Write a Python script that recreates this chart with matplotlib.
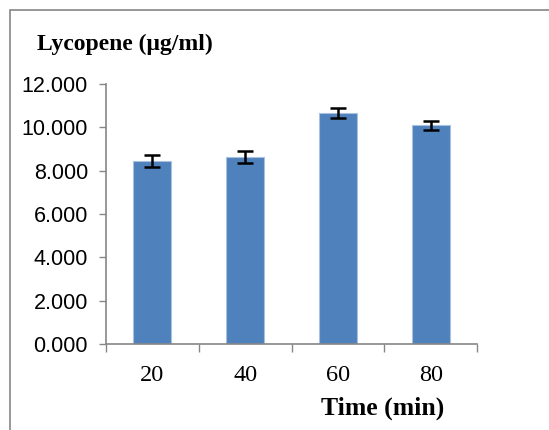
import matplotlib.pyplot as plt
from matplotlib.patches import Rectangle

# Data
times = ["20", "40", "60", "80"]
lycopene = [8.46, 8.62, 10.68, 10.09]
errors = [0.28, 0.28, 0.23, 0.19]
y_ticks = [0, 2, 4, 6, 8, 10, 12]

bar_color = "#4F81BD"
axis_color = "#868686"

fig = plt.figure(figsize=(5.49, 4.30), dpi=100)
ax = fig.add_axes([106 / 549, 1 - 344 / 430, 371 / 549, 260 / 430])

x = range(len(times))
ax.bar(x, lycopene, width=0.41, color=bar_color, edgecolor="#A9C1DF", linewidth=0.8,
       yerr=errors, error_kw=dict(ecolor="black", elinewidth=1.8, capsize=5.5, capthick=1.8))

ax.set_xlim(-0.5, len(times) - 0.5)
ax.set_ylim(0, 12)

# y axis
ax.set_yticks(y_ticks)
ax.set_yticklabels([f"{v:.3f}" for v in y_ticks], family="Liberation Sans", fontsize=15.5)
ax.tick_params(axis="y", direction="out", length=5, width=1, color=axis_color, pad=8)

# x axis: labels centered, ticks at category boundaries
ax.set_xticks(list(x))
ax.set_xticklabels(times, family="Liberation Serif", fontsize=17.5)
ax.tick_params(axis="x", which="major", length=0, pad=15)
ax.set_xticks([i - 0.5 for i in range(len(times) + 1)], minor=True)
ax.tick_params(axis="x", which="minor", direction="out", length=6, width=1, color=axis_color)

for s in ["top", "right"]:
    ax.spines[s].set_visible(False)
for s in ["left", "bottom"]:
    ax.spines[s].set_color(axis_color)
    ax.spines[s].set_linewidth(1.2)

# titles
fig.text(37 / 549, 1 - 44 / 430, "Lycopene (\u03bcg/ml)", family="Liberation Serif",
         fontweight="bold", fontsize=17, ha="left", va="center")
fig.text(383 / 549, 1 - 408 / 430, "Time (min)", family="Liberation Serif",
         fontweight="bold", fontsize=18.5, ha="center", va="center")

# outer chart border
fig.patches.append(Rectangle((10 / 549, -0.1), 1.2, 1 - 10 / 430 + 0.1, transform=fig.transFigure,
                             fill=False, edgecolor=axis_color, linewidth=1.2))

plt.savefig("out.png", dpi=100)
